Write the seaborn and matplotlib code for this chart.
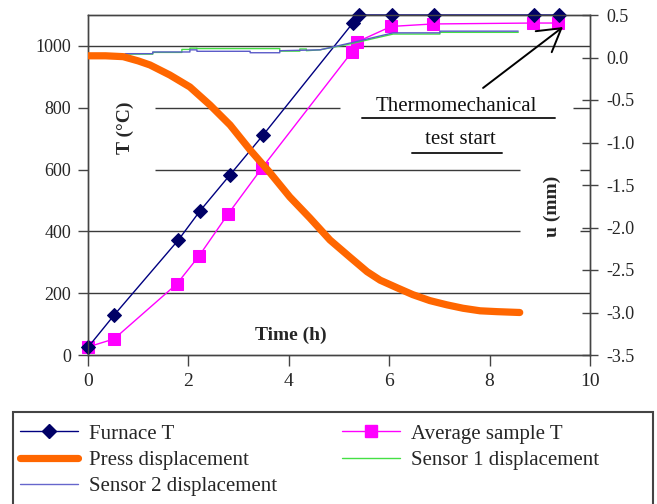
import matplotlib
matplotlib.use("Agg")
import matplotlib.pyplot as plt
import seaborn as sns
import pandas as pd
from matplotlib.lines import Line2D
from matplotlib.patches import Rectangle

# ---------------- data ----------------
furnace_time = [0, 0.52, 1.80, 2.23, 2.83, 3.49, 5.28, 5.40, 6.06, 6.89, 8.88, 9.38]
furnace_temp = [25, 129, 372, 466, 583, 712, 1075, 1100, 1100, 1100, 1100, 1100]

sample_time = [0, 0.52, 1.77, 2.21, 2.79, 3.47, 5.26, 5.36, 6.04, 6.87, 8.86, 9.36]
sample_temp = [26, 52, 230, 320, 456, 606, 981, 1013, 1063, 1071, 1074, 1074]

press_time = [0, 0.35, 0.70, 1.00, 1.235, 1.63, 2.03, 2.43, 2.83, 3.23, 3.63, 4.02,
              4.42, 4.82, 5.22, 5.56, 5.82, 6.16, 6.47, 6.81, 7.15, 7.47, 7.81, 8.15, 8.60]
press_disp = [0.02, 0.02, 0.01, -0.04, -0.088, -0.206, -0.347, -0.559, -0.794, -1.088,
              -1.359, -1.641, -1.888, -2.147, -2.35, -2.52, -2.62, -2.71, -2.79, -2.86,
              -2.91, -2.95, -2.98, -2.99, -3.00]

s1_time = [0, 0.74, 0.74, 1.29, 1.29, 1.87, 1.87, 2.03, 2.03, 2.17, 2.17, 3.82, 3.82,
           4.22, 4.22, 4.35, 4.35, 4.62, 5.22, 6.08, 7.01, 7.01, 8.57]
s1_disp = [0.02, 0.02, 0.04, 0.04, 0.06, 0.06, 0.095, 0.095, 0.11, 0.11, 0.105, 0.105,
           0.075, 0.075, 0.10, 0.10, 0.08, 0.09, 0.16, 0.276, 0.276, 0.296, 0.296]

s2_time = [0, 0.74, 0.74, 1.29, 1.29, 2.03, 2.03, 2.17, 2.17, 3.23, 3.23, 3.82, 3.82,
           4.62, 5.22, 6.08, 7.01, 7.01, 8.57]
s2_disp = [0.03, 0.03, 0.045, 0.045, 0.065, 0.065, 0.09, 0.09, 0.073, 0.073, 0.056,
           0.056, 0.08, 0.09, 0.17, 0.29, 0.29, 0.31, 0.31]

temp_ticks = [0, 200, 400, 600, 800, 1000]
disp_ticks = [0.5, 0.0, -0.5, -1.0, -1.5, -2.0, -2.5, -3.0, -3.5]
time_ticks = [0, 2, 4, 6, 8, 10]

labels = ["Furnace T", "Average sample T", "Press displacement",
          "Sensor 1 displacement", "Sensor 2 displacement"]

# ---------------- style ----------------
sns.set_style("white")
plt.rcParams["font.family"] = ["Liberation Serif", "DejaVu Serif"]
plt.rcParams["axes.linewidth"] = 1.0

C_FURN = "#000080"
C_SAMP = "#FF00FF"
C_PRESS = "#FF6600"
C_S1 = "#44E044"
C_S2 = "#5A5AC8"
C_GRID = "#3a3a3a"

fig = plt.figure(figsize=(6.57, 5.04), dpi=100)
ax = fig.add_axes([88 / 657, 1 - 355 / 504, (590 - 88) / 657, (355 - 15) / 504])
ax2 = ax.twinx()

df_f = pd.DataFrame({"t": furnace_time, "T": furnace_temp})
df_s = pd.DataFrame({"t": sample_time, "T": sample_temp})
df_p = pd.DataFrame({"t": press_time, "u": press_disp})
df_1 = pd.DataFrame({"t": s1_time, "u": s1_disp})
df_2 = pd.DataFrame({"t": s2_time, "u": s2_disp})

# gridlines (partially hidden behind labels as in reference)
for y, segs in [(1000, [(0, 10)]), (800, [(1.33, 5.02), (9.66, 10)]),
                (600, [(1.33, 8.6), (9.8, 10)]), (400, [(0, 8.6), (9.8, 10)]),
                (200, [(0, 10)])]:
    for a, b in segs:
        ax.hlines(y, a, b, colors=C_GRID, linewidth=1.0, zorder=0.5)

sns.lineplot(data=df_s, x="t", y="T", ax=ax, sort=False, estimator=None,
             color=C_SAMP, linewidth=1.0, marker="s", markersize=8.5,
             markerfacecolor=C_SAMP, markeredgecolor=C_SAMP, clip_on=False, zorder=3)
sns.lineplot(data=df_f, x="t", y="T", ax=ax, sort=False, estimator=None,
             color=C_FURN, linewidth=1.0, marker="D", markersize=6.8,
             markerfacecolor="#000066", markeredgecolor="#000066", clip_on=False, zorder=4)

sns.lineplot(data=df_1, x="t", y="u", ax=ax2, sort=False, estimator=None,
             color=C_S1, linewidth=1.0, zorder=2)
sns.lineplot(data=df_2, x="t", y="u", ax=ax2, sort=False, estimator=None,
             color=C_S2, linewidth=1.0, zorder=2)
sns.lineplot(data=df_p, x="t", y="u", ax=ax2, sort=False, estimator=None,
             color=C_PRESS, linewidth=5.2, zorder=3)

ax.set_xlim(0, 10)
ax.set_ylim(0, 1100)
ax2.set_ylim(-3.5, 0.5)
ax.set_xticks(time_ticks)
ax.set_yticks(temp_ticks)
ax2.set_yticks(disp_ticks)
ax2.set_yticklabels([f"{v:.1f}" for v in disp_ticks])
ax.set_xlabel("")
ax.set_ylabel("")
ax2.set_ylabel("")

for a in (ax, ax2):
    for s in a.spines.values():
        s.set_color("#444444")
        s.set_linewidth(1.0)

ax.tick_params(axis="y", direction="out", length=7, width=1, color="#444444",
               labelsize=13, pad=5, left=True)
ax.tick_params(axis="x", direction="out", length=8, width=1, color="#444444",
               labelsize=14, pad=5, bottom=True)
ax2.tick_params(axis="y", direction="inout", length=11.5, width=1, color="#444444",
                labelsize=13, pad=6, right=True)
ax2.patch.set_visible(False)

# axis titles placed inside the plot
ax.text(0.74, 735, "T (°C)", rotation=90, ha="center", va="center",
        fontsize=14, fontweight="bold")
ax.text(9.24, 482, "u (mm)", rotation=90, ha="center", va="center",
        fontsize=14, fontweight="bold")
ax.text(4.05, 65, "Time (h)", ha="center", va="center",
        fontsize=14, fontweight="bold")

# annotation
ax.text(7.33, 803, "Thermomechanical", ha="center", va="center", fontsize=15, color="#111111")
ax.text(7.41, 696, "test start", ha="center", va="center", fontsize=15, color="#111111")
ax.plot([5.46, 9.30], [767, 767], color="#222222", lw=1.4, zorder=3)
ax.plot([6.45, 8.25], [654, 654], color="#222222", lw=1.4, zorder=3)
ax.annotate("", xy=(9.46, 1061), xytext=(7.87, 864),
            arrowprops=dict(arrowstyle="->,head_length=1.6,head_width=0.95",
                            color="black", lw=1.4, shrinkA=0, shrinkB=0,
                            mutation_scale=10), zorder=6)

# legend
h_f = Line2D([], [], color=C_FURN, lw=1.0, marker="D", markersize=6.8,
             markerfacecolor="#000066", markeredgecolor="#000066")
h_s = Line2D([], [], color=C_SAMP, lw=1.0, marker="s", markersize=8.5,
             markerfacecolor=C_SAMP, markeredgecolor=C_SAMP)
h_p = Line2D([], [], color=C_PRESS, lw=5.2, solid_capstyle="round")
h_1 = Line2D([], [], color=C_S1, lw=1.0)
h_2 = Line2D([], [], color="#6666CC", lw=1.0)

leg_kw = dict(loc="upper left", frameon=False, fontsize=15, handlelength=2.8,
              handletextpad=0.5, labelspacing=0.33, borderpad=0, borderaxespad=0,
              numpoints=1)
fig.legend([h_f, h_p, h_2], [labels[0], labels[2], labels[4]],
           bbox_to_anchor=(20 / 657, 1 - 424 / 504), **leg_kw)
fig.legend([h_s, h_1], [labels[1], labels[3]],
           bbox_to_anchor=(342 / 657, 1 - 424 / 504), **leg_kw)
fig.patches.append(Rectangle((12.6 / 657, -0.05), (653 - 12.6) / 657, 0.05 + 1 - 412 / 504,
                             transform=fig.transFigure, fill=False,
                             edgecolor="#444444", linewidth=1.5, clip_on=False))

fig.savefig("out.png", dpi=100)
